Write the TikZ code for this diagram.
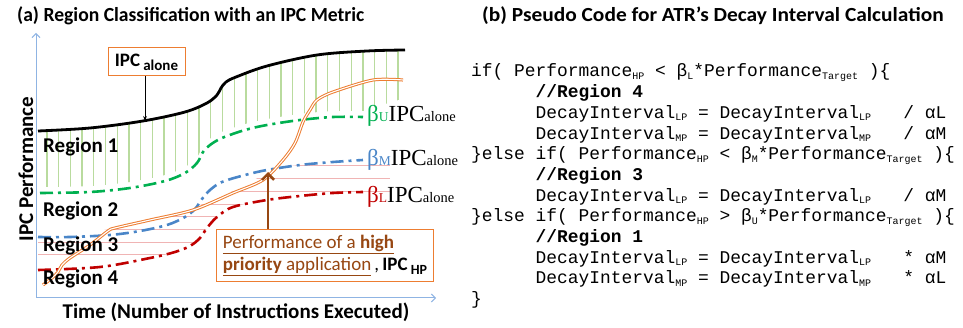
\documentclass[tikz,border=0pt]{standalone}
\usepackage{fontspec}
\usepackage{graphicx}
\setmainfont{Carlito}
\newfontfamily\codefont{Liberation Mono}
\newfontfamily\betafont{Liberation Serif}
\usetikzlibrary{arrows.meta}
\definecolor{axisblue}{HTML}{8FB4E3}
\definecolor{hatchgreen}{HTML}{B9DB9E}
\definecolor{hatchpink}{HTML}{F0B4B4}
\definecolor{betagreen}{HTML}{00B050}
\definecolor{betablue}{HTML}{4A86C8}
\definecolor{betared}{HTML}{C00000}
\definecolor{hporange}{HTML}{ED7D31}
\definecolor{hpbrown}{HTML}{974712}
\newcommand{\csub}[1]{\raisebox{-2.5pt}{\fontsize{10}{10}\selectfont #1}}
\newcommand{\betalbl}[2]{{\betafont\color{#1}\fontsize{23}{23}\selectfont β\fontsize{13.5}{13.5}\selectfont #2}{\betafont\fontsize{23}{23}\selectfont IPC\fontsize{14.5}{14.5}\selectfont alone}}
\tikzset{
  dashdot/.style={line width=2.6pt, dash pattern=on 13pt off 5pt on 3pt off 5pt},
  orangebox/.style={draw=hporange, line width=1pt, fill=white},
  axisline/.style={axisblue, line width=1pt, -{Straight Barb[length=4pt]}},
  codeline/.style={font=\codefont\fontsize{17.9}{20}\selectfont, anchor=base west, inner sep=0pt}
}

\begin{document}
\begin{tikzpicture}[x=1pt, y=-1pt,
  titlelbl/.style={font=\fontsize{20}{20}\selectfont\bfseries, anchor=base west, inner sep=0pt},
  regionlbl/.style={font=\fontsize{21}{21}\selectfont\bfseries, anchor=base west, inner sep=0pt},
  axislbl/.style={font=\fontsize{21}{21}\selectfont\bfseries, inner sep=0pt}
]
\useasboundingbox (0,0) rectangle (963,328);

% Titles
\node[titlelbl] (titlea) at (17,22) {\scalebox{0.98}[1]{(a) Region Classification with an IPC Metric}};
\node[titlelbl] (titleb) at (482,22) {\scalebox{1.07}[1]{(b) Pseudo Code for ATR’s Decay Interval Calculation}};

% Green hatching between IPC alone and upper bound
\begin{scope}
\clip plot[smooth, tension=0.55] coordinates {(38,131) (90,128) (143,121) (185,112) (207,103) (217,95) (221,88) (226,82) (236,77) (267,66) (317,55) (367,51) (405,50)}
  -- (405,98)
  -- plot[smooth, tension=0.55] coordinates {(363,111) (333,111) (300,114) (267,119) (245,124) (222,132) (210,139) (203,146) (197,157) (185,167) (165,175) (130,182) (90,186) (38,187)} -- cycle;
\foreach \i in {0,...,30}
  \draw[hatchgreen, line width=1.3pt] ({47+11.7*\i},40) -- ({47+11.7*\i},200);
\end{scope}

% Pink hatching between lower bounds
\begin{scope}
\clip plot[smooth, tension=0.55] coordinates {(38,240) (110,229) (160,218) (200,205) (235,190) (270,172) (300,165) (390,160)}
  -- (390,193)
  -- plot[smooth, tension=0.55] coordinates {(363,192) (333,193) (300,196) (267,200) (233,207) (217,217) (207,228) (200,238) (190,246) (175,252) (150,258) (100,267) (38,270)} -- cycle;
\foreach \i in {0,...,7}
  \draw[hatchpink, line width=1pt] (38,{166+12.7*\i}) -- (390,{166+12.7*\i});
\end{scope}

% Axes
\coordinate (origin) at (36,298);
\coordinate (ytop) at (36,33);
\coordinate (xend) at (436,298);
\draw[axisline] (origin) -- (ytop);
\draw[axisline] (origin) -- (xend);
\node[axislbl, rotate=90] (ylbl) at (26,169) {IPC Performance};
\node[axislbl, anchor=base] (xlbl) at (236,319) {Time (Number of Instructions Executed)};

% Thresholds
\draw[line width=2.8pt] plot[smooth, tension=0.55] coordinates {(38,131) (90,128) (143,121) (185,112) (207,103) (217,95) (221,88) (226,82) (236,77) (267,66) (317,55) (367,51) (405,50)};
\draw[dashdot, betagreen] plot[smooth, tension=0.55] coordinates {(40,193) (90,192) (130,188) (165,181) (185,173) (197,163) (203,152) (210,145) (222,138) (245,130) (267,125) (300,120) (333,117) (363,117)};
\draw[dashdot, betablue] plot[smooth, tension=0.55] coordinates {(38,237) (70,237) (110,235) (140,231) (167,225) (185,217) (195,209) (202,199) (210,190) (222,182) (245,175) (267,170) (300,165) (333,162) (363,160)};
\draw[dashdot, betared] plot[smooth, tension=0.55] coordinates {(38,270) (100,267) (150,258) (175,252) (190,246) (200,238) (207,228) (217,217) (233,207) (267,200) (300,196) (333,193) (363,192)};

% IPC of the high priority application
\draw[draw=hporange, double=white, double distance=1.1pt, line width=1pt] plot[smooth, tension=0.5] coordinates {(43,285) (52,278) (58,272) (62,265) (70,258) (90,245) (108,231) (115,228) (150,220) (193,210) (233,193) (263,180) (283,160) (295,143) (303,122) (310,110) (317,100) (333,92) (373,80) (403,80)};

% Threshold labels
\node[anchor=base west, inner sep=0pt] (betau) at (367,122) {\betalbl{betagreen}{U}};
\node[anchor=base west, inner sep=0pt] (betam) at (367,166) {\betalbl{betablue}{M}};
\node[anchor=base west, inner sep=0pt] (betal) at (367,203) {\betalbl{betared}{L}};

% Regions
\node[regionlbl] (reg1) at (43,153) {Region 1};
\node[regionlbl] (reg2) at (43,217) {Region 2};
\node[regionlbl] (reg3) at (43,252) {Region 3};
\node[regionlbl] (reg4) at (43,285) {Region 4};

% Callouts
\node[orangebox, minimum width=77pt, minimum height=28pt, inner sep=0pt] (alonebox) at (146.5,62)
  {\fontsize{19}{19}\selectfont\bfseries IPC\,\raisebox{-4pt}{\fontsize{15}{15}\selectfont alone}};
\coordinate (alonetip) at (145,121);
\draw[-{Stealth[length=5pt]}, line width=0.8pt] (alonebox.south -| alonetip) -- (alonetip);

\node[orangebox, anchor=north west, minimum width=217pt, minimum height=52pt, inner xsep=5pt, inner ysep=4pt, align=left,
  font=\fontsize{19}{22}\selectfont] (hpbox) at (216,229)
  {{\color{hpbrown}\underline{Performance of a \textbf{high}}}\\
   {\color{hpbrown}\underline{\textbf{priority} application}}\,,\,\textbf{IPC\,\raisebox{-4pt}{\fontsize{14}{14}\selectfont HP}}};
\coordinate (hptip) at (268,172);
\draw[hpbrown, line width=2.6pt, -{Straight Barb[length=6pt]}] (hpbox.north -| hptip) -- (hptip);

% Code lines
\node[codeline] (c1) at (471,77) {if( Performance\csub{HP} < β\csub{L}*Performance\csub{Target} )\{};
\node[codeline] (c2) at (471,97.7) {\hspace*{3.6em}\textbf{//Region 4}};
\node[codeline] (c3) at (471,118.4) {\hspace*{3.6em}DecayInterval\csub{LP} = DecayInterval\csub{LP}~~~/ αL};
\node[codeline] (c4) at (471,139.1) {\hspace*{3.6em}DecayInterval\csub{MP} = DecayInterval\csub{MP}~~~/ αM};
\node[codeline] (c5) at (471,159.8) {\}else if( Performance\csub{HP} < β\csub{M}*Performance\csub{Target} )\{};
\node[codeline] (c6) at (471,180.5) {\hspace*{3.6em}\textbf{//Region 3}};
\node[codeline] (c7) at (471,201.2) {\hspace*{3.6em}DecayInterval\csub{LP} = DecayInterval\csub{LP}~~~/ αM};
\node[codeline] (c8) at (471,221.9) {\}else if( Performance\csub{HP} > β\csub{U}*Performance\csub{Target} )\{};
\node[codeline] (c9) at (471,242.6) {\hspace*{3.6em}\textbf{//Region 1}};
\node[codeline] (c10) at (471,263.3) {\hspace*{3.6em}DecayInterval\csub{LP} = DecayInterval\csub{LP}~~~* αM};
\node[codeline] (c11) at (471,284) {\hspace*{3.6em}DecayInterval\csub{MP} = DecayInterval\csub{MP}~~~* αL};
\node[codeline] (c12) at (471,304.7) {\}};
\end{tikzpicture}
\end{document}
